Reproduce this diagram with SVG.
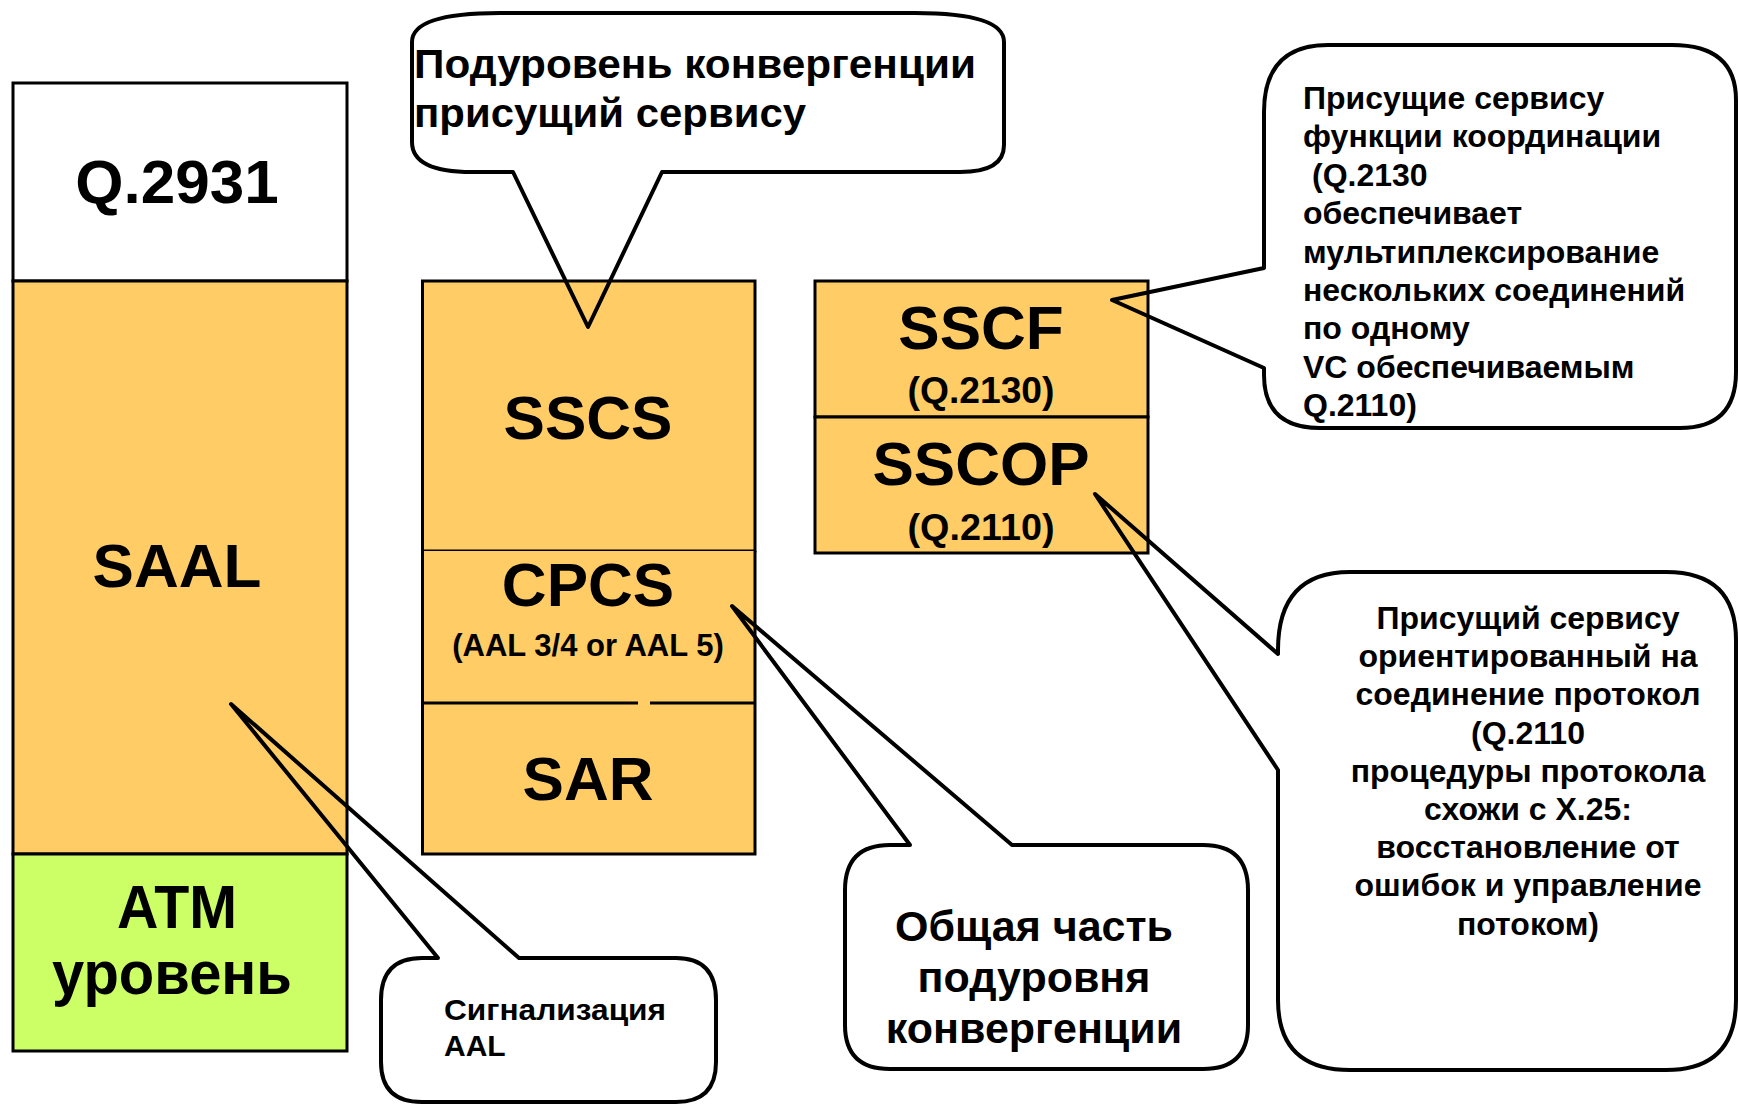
<svg xmlns="http://www.w3.org/2000/svg" width="1739" height="1106" viewBox="0 0 1739 1106">
<style>
.box{stroke:#000;stroke-width:3}
.orange{fill:#FFCC66}
.green{fill:#CCFF66}
.white{fill:#FFFFFF}
.div{stroke:#000;stroke-width:3;fill:none}
.callout{fill:none;stroke:#000;stroke-width:4;stroke-linejoin:round}
.t{font-family:"Liberation Sans",Arial,sans-serif;font-weight:bold;fill:#000}
.big{font-size:62px;text-anchor:middle}
.sub{font-size:36px;text-anchor:middle}
.note{font-size:32px}
</style>
<rect width="1739" height="1106" fill="#FFFFFF"/>

<g id="q2931">
<rect class="box white" x="13" y="83" width="334" height="198"/>
<text class="t big" x="177" y="203">Q.2931</text>
</g>
<g id="saal">
<rect class="box orange" x="13" y="281" width="334" height="573"/>
<text class="t big" x="177" y="587">SAAL</text>
</g>
<g id="atm">
<rect class="box green" x="13" y="854" width="334" height="197"/>
<text class="t big" x="177" y="928" textLength="120" lengthAdjust="spacingAndGlyphs">ATM</text>
<text class="t big" x="172" y="994" textLength="240" lengthAdjust="spacingAndGlyphs">уровень</text>
</g>

<g id="sscs">
<rect class="box orange" x="422.5" y="281" width="332.5" height="270"/>
<text class="t big" x="588" y="439">SSCS</text>
</g>
<g id="cpcs">
<rect class="orange" x="422.5" y="551" width="332.5" height="152"/>
<path class="div" d="M422.5,551 V703 M755,551 V703"/>
<text class="t big" x="588" y="606">CPCS</text>
<text class="t" x="588" y="656" font-size="31" text-anchor="middle">(AAL 3/4 or AAL 5)</text>
</g>
<g id="sar">
<rect class="orange" x="422.5" y="703" width="332.5" height="151"/>
<path class="div" d="M422.5,703 V854 H755 V703 M422.5,703 H638 M650,703 H755"/>
<text class="t big" x="588" y="800">SAR</text>
</g>

<g id="sscf">
<rect class="box orange" x="815" y="281" width="333" height="136"/>
<text class="t big" x="981" y="349">SSCF</text>
<text class="t sub" x="981" y="403" textLength="147" lengthAdjust="spacingAndGlyphs">(Q.2130)</text>
</g>
<g id="sscop">
<rect class="box orange" x="815" y="417" width="333" height="136"/>
<text class="t big" x="981" y="485">SSCOP</text>
<text class="t sub" x="981" y="540" textLength="147" lengthAdjust="spacingAndGlyphs">(Q.2110)</text>
</g>

<g id="connectors">
<path id="callout-sscs" class="callout" d="M412,42 Q412,13 500,13 L915,13 Q1004,13 1004,42 L1004,145 Q1004,172 960,172 L662,172 L588,327 L513,172 L472,172 Q412,172 412,142 Z"/>
<path id="callout-sscf" class="callout" d="M1264,112 Q1264,45 1328,45 L1672,45 Q1736,45 1736,100 L1736,372 Q1736,428 1680,428 L1320,428 Q1264,428 1264,375 L1264,368 L1112,300 L1264,268 Z"/>
<path id="callout-sscop" class="callout" d="M1278,650 Q1278,572 1350,572 L1666,572 Q1736,572 1736,640 L1736,1000 Q1736,1070 1666,1070 L1350,1070 Q1278,1070 1278,1000 L1278,770 L1095,494 L1278,654 Z"/>
<path id="callout-cpcs" class="callout" d="M845,890 Q845,845 890,845 L910,845 L732,606 L1012,845 L1203,845 Q1248,845 1248,890 L1248,1025 Q1248,1069 1203,1069 L890,1069 Q845,1069 845,1025 Z"/>
<path id="callout-saal" class="callout" d="M381,1000 Q381,958 422,958 L438,958 L231,704 L519,958 L676,958 Q716,958 716,1000 L716,1062 Q716,1102 676,1102 L422,1102 Q381,1102 381,1062 Z"/>
</g>

<g id="label-sscs">
<text class="t" x="414" y="78" font-size="41" textLength="562" lengthAdjust="spacingAndGlyphs">Подуровень конвергенции</text>
<text class="t" x="414" y="127" font-size="41" textLength="392" lengthAdjust="spacingAndGlyphs">присущий сервису</text>
</g>
<g id="label-sscf" class="t note">
<text x="1303" y="109">Присущие сервису</text>
<text x="1303" y="147">функции координации</text>
<text x="1312" y="186">(Q.2130</text>
<text x="1303" y="224">обеспечивает</text>
<text x="1303" y="263">мультиплексирование</text>
<text x="1303" y="301">нескольких соединений</text>
<text x="1303" y="339">по одному</text>
<text x="1303" y="378">VC обеспечиваемым</text>
<text x="1303" y="416">Q.2110)</text>
</g>
<g id="label-sscop" class="t note" text-anchor="middle">
<text x="1528" y="629">Присущий сервису</text>
<text x="1528" y="667">ориентированный на</text>
<text x="1528" y="705">соединение протокол</text>
<text x="1528" y="744">(Q.2110</text>
<text x="1528" y="782">процедуры протокола</text>
<text x="1528" y="820">схожи с X.25:</text>
<text x="1528" y="858">восстановление от</text>
<text x="1528" y="896">ошибок и управление</text>
<text x="1528" y="935">потоком)</text>
</g>
<g id="label-cpcs" class="t" font-size="43" text-anchor="middle">
<text x="1034" y="941">Общая часть</text>
<text x="1034" y="992">подуровня</text>
<text x="1034" y="1043">конвергенции</text>
</g>
<g id="label-saal" class="t" font-size="30">
<text x="444" y="1020" textLength="222" lengthAdjust="spacingAndGlyphs">Сигнализация</text>
<text x="444" y="1056">AAL</text>
</g>
</svg>
